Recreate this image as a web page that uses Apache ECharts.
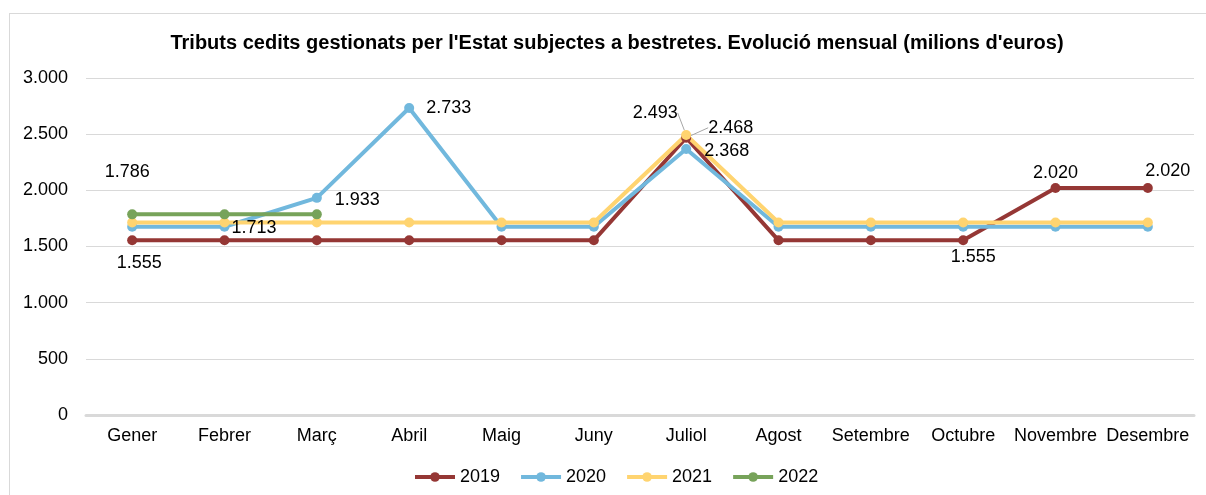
<!DOCTYPE html>
<html>
<head>
<meta charset="utf-8">
<script src="https://cdn.jsdelivr.net/npm/echarts@6/dist/echarts.min.js"></script>
<style>
  html, body { margin: 0; padding: 0; background: #fff; }
  #frame { position: absolute; left: 9px; top: 13px; width: 1210px; height: 500px; border: 1px solid #d9d9d9; }
  #main { position: absolute; left: 0; top: 0; width: 1206px; height: 495px; }
</style>
</head>
<body>
<div id="frame"></div>
<div id="main"></div>
<script>
var months = ['Gener','Febrer','Març','Abril','Maig','Juny','Juliol','Agost','Setembre','Octubre','Novembre','Desembre'];
var y2019 = [1555,1555,1555,1555,1555,1555,2468,1555,1555,1555,2020,2020];
var y2020 = [1676,1676,1933,2733,1676,1676,2368,1676,1676,1676,1676,1676];
var y2021 = [1713,1713,1713,1713,1713,1713,2493,1713,1713,1713,1713,1713];
var y2022 = [1786,1786,1786];

var myChart = echarts.init(document.getElementById('main'));
var FONT = 'Liberation Sans, Arial';

function fmt(v) {
  return String(v).replace(/\B(?=(\d{3})+(?!\d))/g, '.');
}
function lbl(pos) {
  return { show: true, position: pos, color: '#000', fontSize: 18,
    fontFamily: FONT, formatter: function (p) { return fmt(p.value); } };
}

// rètols: [posició, dx, dy, línia guia]
var labels = {
  '2019': { 0: ['bottom', 7, 4], 6: ['right', 12, -10, true], 9: ['bottom', 10, -2], 10: ['top', 0, 4], 11: ['top', 20, 2] },
  '2020': { 2: ['right', 8, 2], 3: ['right', 7, 0], 6: ['right', 8, 2] },
  '2021': { 1: ['right', -3, 5], 6: ['top', -31, -3, true] },
  '2022': { 0: ['top', -5, -23] }
};

function pts(name, arr) {
  var conf = labels[name];
  return arr.map(function (v, i) {
    if (!conf[i]) return v;
    return { value: v, label: lbl(conf[i][0]), labelLine: { show: !!conf[i][3] } };
  });
}

function line(name, arr, color) {
  return {
    name: name, type: 'line', data: pts(name, arr),
    symbol: 'circle', symbolSize: 10,
    lineStyle: { color: color, width: 4 },
    itemStyle: { color: color },
    label: { show: false },
    labelLine: { show: false, lineStyle: { color: '#a6a6a6', width: 1 } },
    labelLayout: function (p) {
      var c = labels[name][p.dataIndex];
      return c ? { dx: c[1], dy: c[2] } : {};
    },
    emphasis: { disabled: true },
    animation: false
  };
}

myChart.setOption({
  title: {
    text: "Tributs cedits gestionats per l'Estat subjectes a bestretes. Evolució mensual (milions d'euros)",
    left: 612, top: 28, textAlign: 'center',
    textStyle: { fontSize: 20, fontWeight: 'bold', color: '#000', fontFamily: FONT }
  },
  legend: {
    bottom: 4, left: 408, itemWidth: 40, itemHeight: 12, itemGap: 19,
    lineStyle: { width: 4 },
    data: ['2019','2020','2021','2022'],
    textStyle: { fontSize: 18, color: '#000', fontFamily: FONT }
  },
  grid: { left: 86, right: 12, top: 78, bottom: 80 },
  xAxis: {
    type: 'category', data: months, boundaryGap: true,
    axisLine: { lineStyle: { color: '#d9d9d9', width: 3 } },
    axisTick: { show: false },
    axisLabel: { color: '#000', fontSize: 18, margin: 12, interval: 0, fontFamily: FONT }
  },
  yAxis: {
    type: 'value', min: 0, max: 3000, interval: 500,
    axisLine: { show: false }, axisTick: { show: false },
    axisLabel: { color: '#000', fontSize: 18, margin: 18, fontFamily: FONT, formatter: fmt },
    splitLine: { lineStyle: { color: '#d9d9d9', width: 1 } }
  },
  series: [
    line('2019', y2019, '#953735'),
    line('2020', y2020, '#71b8dd'),
    line('2021', y2021, '#ffd470'),
    line('2022', y2022, '#77a35a')
  ]
});
</script>
</body>
</html>
